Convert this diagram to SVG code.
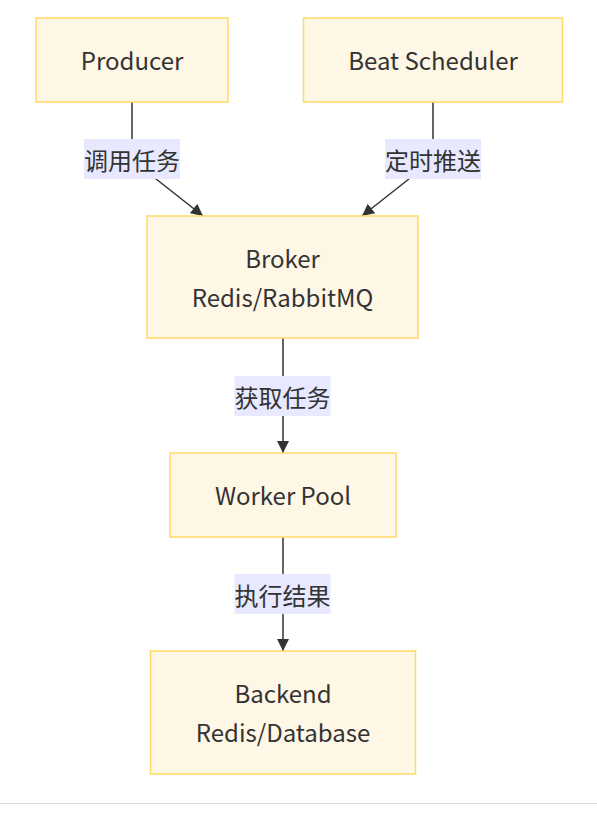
<svg xmlns="http://www.w3.org/2000/svg" width="597" height="816" viewBox="0 0 597 816">
<defs>
<style>
.node rect{fill:#fff7e6;stroke:#ffd966;stroke-width:1.5}
.node text{font-family:"Noto Sans CJK SC","Noto Sans",sans-serif;font-size:24px;fill:#333;text-anchor:middle}
.edge{fill:none;stroke:#333;stroke-width:1.5}
.lbl rect{fill:#e8e8ff;stroke:none}
.lbl text{font-family:"Noto Sans CJK SC",sans-serif;font-size:24px;fill:#333;text-anchor:middle;dominant-baseline:central}
</style>
<marker id="arr" viewBox="0 0 10 10" refX="10" refY="5" markerWidth="12" markerHeight="12" markerUnits="userSpaceOnUse" orient="auto">
<path d="M0,0 L10,5 L0,10 z" fill="#333"/>
</marker>
</defs>
<rect width="597" height="816" fill="#fff"/>
<g id="connectors">
<path class="edge" d="M132,102 L132,160 L203,216" marker-end="url(#arr)"/>
<path class="edge" d="M433,102 L433,160 L362,216" marker-end="url(#arr)"/>
<path class="edge" d="M283,338 L283,453" marker-end="url(#arr)"/>
<path class="edge" d="M283,537 L283,651" marker-end="url(#arr)"/>
</g>
<g id="edge-labels">
<g class="lbl" id="label-invoke"><rect x="84" y="139" width="96" height="40"/><text x="132" y="159">调用任务</text></g>
<g class="lbl" id="label-schedule"><rect x="385" y="139" width="96" height="40"/><text x="433" y="159">定时推送</text></g>
<g class="lbl" id="label-fetch"><rect x="234.5" y="376" width="96" height="40"/><text x="282.5" y="396">获取任务</text></g>
<g class="lbl" id="label-result"><rect x="234.5" y="574" width="96" height="40"/><text x="282.5" y="594">执行结果</text></g>
</g>
<g class="node" id="producer"><rect x="36" y="18" width="192" height="84"/><text x="132" y="70">Producer</text></g>
<g class="node" id="beat"><rect x="303.5" y="18" width="259" height="84"/><text x="433" y="70">Beat Scheduler</text></g>
<g class="node" id="broker"><rect x="147" y="216" width="271" height="122"/><text x="282.5" y="268">Broker</text><text x="282.5" y="307">Redis/RabbitMQ</text></g>
<g class="node" id="worker"><rect x="170" y="453" width="226" height="84"/><text x="283" y="505">Worker Pool</text></g>
<g class="node" id="backend"><rect x="150.5" y="651" width="265" height="123"/><text x="283" y="703">Backend</text><text x="283" y="742">Redis/Database</text></g>
<line x1="0" y1="803.5" x2="597" y2="803.5" stroke="#ddd" stroke-width="1"/>
</svg>
